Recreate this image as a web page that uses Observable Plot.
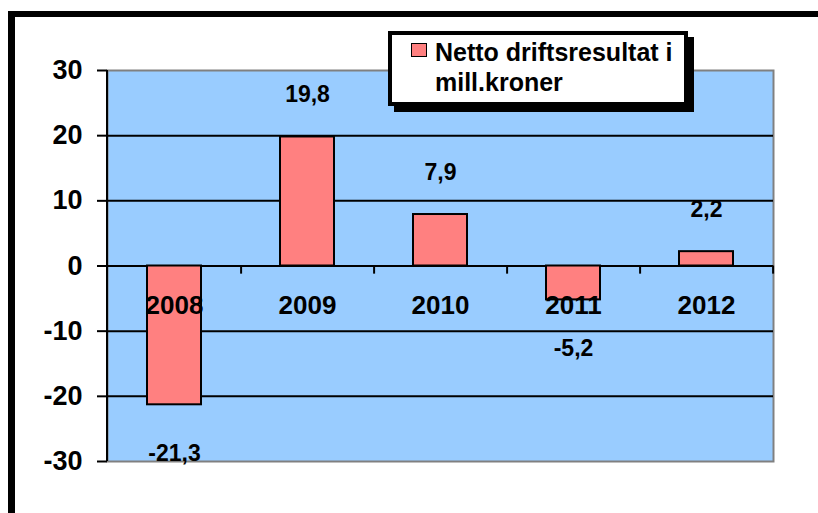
<!DOCTYPE html>
<html>
<head>
<meta charset="utf-8">
<script src="https://cdn.jsdelivr.net/npm/d3@7"></script>
<script src="https://cdn.jsdelivr.net/npm/@observablehq/plot@0.6"></script>
<style>
  body { margin: 0; background: #fff; font-family: "Liberation Sans", Arial, sans-serif; }
  #wrap { position: relative; width: 818px; height: 513px; overflow: hidden; }
  #legend {
    position: absolute; left: 388px; top: 31px; width: 292px; height: 67px;
    border: 4px solid #000; background: #fff; box-shadow: 6px 6px 0 #000;
    font-weight: bold; font-size: 25px; line-height: 30px; color: #000;
  }
  #legend .sw {
    position: absolute; left: 19px; top: 8px; width: 14px; height: 12px;
    background: #FF8080; border: 1.5px solid #000;
  }
  #legend .tx { position: absolute; left: 43px; top: 2px; white-space: nowrap; }
</style>
</head>
<body>
<div id="wrap"></div>
<script>
const years = ["2008", "2009", "2010", "2011", "2012"];
const values = [-21.3, 19.8, 7.9, -5.2, 2.2];
const yTicks = [-30, -20, -10, 0, 10, 20, 30];
const gridLines = [-20, -10, 0, 10, 20];
const seriesName = ["Netto driftsresultat i", "mill.kroner"];

const data = years.map((year, i) => ({ year, value: values[i] }));
const fmt = v => v.toFixed(1).replace(".", ",");

const chart = Plot.plot({
  width: 818,
  height: 513,
  marginLeft: 107,
  marginRight: 45,
  marginTop: 70,
  marginBottom: 52,
  style: { fontFamily: "'Liberation Sans', Arial, sans-serif", fontWeight: "bold", background: "transparent", overflow: "visible", color: "black" },
  x: { domain: years, paddingInner: 0.595, paddingOuter: 0.2975, axis: null },
  y: { domain: [-30, 30], axis: null },
  marks: [
    Plot.frame({ fill: "#99CCFF", stroke: "#808080", strokeWidth: 2 }),
    Plot.ruleY(gridLines, { stroke: "black", strokeWidth: 2 }),
    Plot.ruleX(years, { x: d => d, y1: () => 0, y2: () => -1.25, dx: 66.6, stroke: "black", strokeWidth: 2 }),
    Plot.axisY({ ticks: yTicks, tickSize: 10, tickPadding: 15, fontSize: 27, stroke: "black", strokeWidth: 2, tickFormat: d => String(d), label: null }),
    Plot.barY(data, { x: "year", y: "value", fill: "#FF8080", stroke: "black", strokeWidth: 2 }),
    Plot.text(years, { x: d => d, y: () => 0, dy: 40, text: d => d, fontSize: 26, fill: "black" }),
    Plot.text(data.filter(d => d.value > 0), { x: "year", y: "value", text: d => fmt(d.value), dy: -42, fontSize: 23, fill: "black" }),
    Plot.text(data.filter(d => d.value < 0), { x: "year", y: "value", text: d => fmt(d.value), dy: 49, fontSize: 23, fill: "black" })
  ]
});

const svg = d3.select(chart);
// left axis line
svg.append("line").attr("x1", 107).attr("x2", 107).attr("y1", 70).attr("y2", 461)
  .attr("stroke", "black").attr("stroke-width", 2);
// outer chart border (top and left)
svg.append("rect").attr("x", 8).attr("y", 11).attr("width", 810).attr("height", 6).attr("fill", "black");
svg.append("rect").attr("x", 8).attr("y", 11).attr("width", 7).attr("height", 502).attr("fill", "black");

const wrap = document.getElementById("wrap");
wrap.appendChild(chart);

const legend = document.createElement("div");
legend.id = "legend";
legend.innerHTML = '<div class="sw"></div><div class="tx">' + seriesName.join("<br>") + '</div>';
wrap.appendChild(legend);
</script>
</body>
</html>
